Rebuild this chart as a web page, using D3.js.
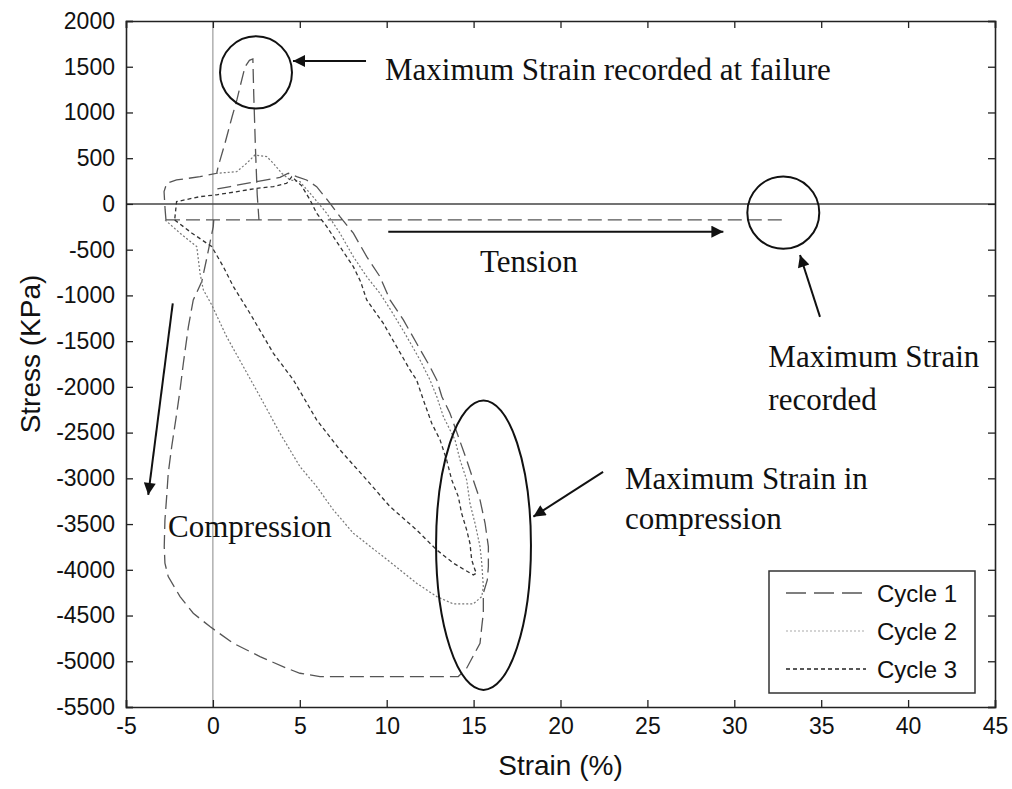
<!DOCTYPE html>
<html><head><meta charset="utf-8">
<script src="https://cdn.jsdelivr.net/npm/d3@7/dist/d3.min.js"></script>
<style>
body{margin:0;background:#fff;}
svg{display:block;}
</style></head><body>
<svg id="chart" width="1012" height="789"></svg>
<script>
// ---------------- data ----------------
const strainTicks = [-5, 0, 5, 10, 15, 20, 25, 30, 35, 40, 45];
const stressTicks = [2000, 1500, 1000, 500, 0, -500, -1000, -1500, -2000, -2500, -3000, -3500, -4000, -4500, -5000, -5500];
const seriesNames = ["Cycle 1", "Cycle 2", "Cycle 3"];

// [strain %, stress KPa]; null = pen up
const cycle1 = [
  [-2.7,-175],[2.65,-175], null,
  [-2.7,-175],[-2.75,-60],[-2.81,134],[-2.66,226],[-2.09,262],[-0.74,298],[0.22,335],[0.3,405],[0.7,667],[1.1,950],
  [1.38,1137],[1.56,1280],[1.85,1500],[2.1,1570],[2.3,1585],[2.35,1200],[2.45,600],[2.55,100],[2.65,-175],[33,-175], null,
  [0.05,-175],[0.02,-248],[-0.36,-600],[-0.64,-849],[-1.13,-1050],[-1.41,-1341],[-1.7,-1742],[-1.89,-2033],[-2.08,-2288],
  [-2.37,-2653],[-2.57,-2944],[-2.66,-3200],[-2.76,-3455],[-2.8,-3747],[-2.76,-3928],[-2.57,-4074],[-1.89,-4293],
  [-1.13,-4475],[-0.17,-4621],[1.17,-4803],[2.71,-4949],[4.25,-5076],[5.01,-5131],[6.16,-5167],[14.12,-5167],
  [14.6,-5076],[15.37,-4803],[15.47,-4621],[15.56,-4475],[15.56,-4256],[15.79,-4110],[15.85,-3965],[15.85,-3747],
  [15.66,-3491],[15.37,-3236],[14.98,-3017],[14.6,-2799],[14.12,-2543],[13.64,-2288],[13.17,-2106],[12.88,-1924],
  [12.49,-1779],[11.72,-1523],[10.96,-1268],[10.19,-1050],[9.61,-795],[8.85,-576],[8.08,-320],[7.31,-139],[6.74,7],
  [5.97,189],[5.39,262],[4.82,298],[4.34,335],[3.86,290],[3.0,260],[1.94,225],[1.0,190],[0.12,160]
];
const cycle2 = [
  [-2.75,-175],[-1.89,-320],[-0.93,-466],[-0.74,-758],[-0.55,-940],[-0.07,-1104],[0.79,-1451],[1.75,-1779],
  [2.71,-2106],[3.86,-2507],[5.01,-2872],[5.97,-3090],[6.93,-3345],[8.08,-3600],[9.8,-3856],[10.77,-4001],
  [11.72,-4147],[12.88,-4293],[13.84,-4373],[14.98,-4373],[15.47,-4293],[15.56,-4184],[15.47,-3928],[15.37,-3747],
  [15.08,-3491],[14.79,-3272],[14.6,-3017],[14.22,-2799],[13.93,-2580],[13.26,-2325],[12.88,-2106],[12.49,-1924],
  [11.9,-1700],[11.0,-1400],[10.2,-1150],[9.61,-977],[8.85,-795],[8.08,-576],[7.31,-320],[6.55,-102],[6.07,7],
  [5.59,117],[5.01,244],[4.44,262],[3.96,335],[3.48,444],[3.1,517],[2.42,535],[1.94,444],[1.37,353],[0.22,335]
];
const cycle3 = [
  [-2.2,-175],[-1.2,-320],[-0.07,-466],[0.6,-686],[1.18,-904],[2.13,-1195],[3.48,-1633],[4.63,-1924],[5.97,-2361],
  [7.31,-2689],[8.85,-3017],[10.19,-3309],[11.72,-3564],[12.88,-3783],[13.84,-3928],[14.98,-4056],[15.17,-4037],
  [15.08,-4001],[14.89,-3892],[14.79,-3710],[14.6,-3564],[14.31,-3382],[14.12,-3200],[13.74,-3017],[13.45,-2799],
  [13.07,-2580],[12.59,-2398],[12.11,-2143],[11.72,-1924],[11.34,-1815],[10.57,-1560],[9.8,-1304],[8.85,-1050],
  [8.5,-850],[8.08,-686],[7.31,-467],[6.55,-248],[5.97,-102],[5.59,44],[5.1,200],[4.54,298],[4.25,226],[3.48,189],
  [2.52,171],[1.56,140],[0.22,100],[-0.74,80],[-2.09,25],[-2.2,-175]
];

// annotations (data coordinates)
const annCircles = [ {cx:2.48, cy:1438, rx:2.07, ry:395}, {cx:32.82, cy:-96, rx:2.07, ry:395}, {cx:15.57, cy:-3731, rx:2.73, ry:1582} ];
const annArrows = [
  {x1:8.81, y1:1563, x2:4.61, y2:1563},
  {x1:10.09, y1:-303, x2:29.37, y2:-303},
  {x1:-2.31, y1:-1086, x2:-3.72, y2:-3181},
  {x1:34.93, y1:-1235, x2:33.78, y2:-558},
  {x1:22.45, y1:-2930, x2:18.44, y2:-3419}
];
const annTexts = [
  {x:9.9, y:1356, t:"Maximum Strain recorded at failure"},
  {x:15.37, y:-743, t:"Tension"},
  {x:-2.58, y:-3641, t:"Compression"},
  {x:31.96, y:-1782, t:"Maximum Strain"},
  {x:31.96, y:-2252, t:"recorded"},
  {x:23.71, y:-3116, t:"Maximum Strain in"},
  {x:23.71, y:-3553, t:"compression"}
];

// ---------------- drawing ----------------
const svg = d3.select("#chart");
const L = 126, R = 995, T = 21, B = 707;
const x = d3.scaleLinear().domain([-5, 45]).range([L, R]);
const y = d3.scaleLinear().domain([-5500, 2000]).range([B, T]);
const sans = "Arial, 'Liberation Sans', Helvetica, sans-serif";
const serif = "'Times New Roman', 'Liberation Serif', serif";
const fmt = d => String(d);

const defs = svg.append("defs");
defs.append("marker").attr("id","ah").attr("viewBox","0 0 10 10").attr("refX",10).attr("refY",5)
  .attr("markerWidth",17).attr("markerHeight",12).attr("markerUnits","userSpaceOnUse").attr("orient","auto")
  .append("path").attr("d","M0,0 L10,5 L0,10 Z").attr("fill","#111");
defs.append("clipPath").attr("id","clip").append("rect").attr("x",L).attr("y",T).attr("width",R-L).attr("height",B-T);

// reference lines
svg.append("line").attr("x1",x(0)).attr("x2",x(0)).attr("y1",T).attr("y2",B).attr("stroke","#888").attr("stroke-width",1);
svg.append("line").attr("x1",L).attr("x2",R).attr("y1",y(0)).attr("y2",y(0)).attr("stroke","#444").attr("stroke-width",1.6);

// axes
const axB = svg.append("g").attr("transform",`translate(0,${B})`)
  .call(d3.axisBottom(x).tickValues(strainTicks).tickSize(-7).tickPadding(11).tickFormat(fmt));
const axL = svg.append("g").attr("transform",`translate(${L},0)`)
  .call(d3.axisLeft(y).tickValues(stressTicks).tickSize(-7).tickPadding(11).tickFormat(fmt));
const axT = svg.append("g").attr("transform",`translate(0,${T})`)
  .call(d3.axisTop(x).tickValues(strainTicks).tickSize(-7).tickFormat(""));
const axR = svg.append("g").attr("transform",`translate(${R},0)`)
  .call(d3.axisRight(y).tickValues(stressTicks).tickSize(-7).tickFormat(""));
[axB, axL, axT, axR].forEach(g => {
  g.select(".domain").attr("stroke","#222").attr("stroke-width",1.6);
  g.selectAll(".tick line").attr("stroke","#222").attr("stroke-width",1.3);
  g.selectAll(".tick text").attr("fill","#111").style("font-family",sans).style("font-size","23px");
});

// axis titles
svg.append("text").attr("x",(L+R)/2).attr("y",775).attr("text-anchor","middle")
  .style("font-family",sans).style("font-size","28px").attr("fill","#111").text("Strain (%)");
svg.append("text").attr("transform",`translate(40,${(T+B)/2 - 10}) rotate(-90)`).attr("text-anchor","middle")
  .style("font-family",sans).style("font-size","28px").attr("fill","#111").text("Stress (KPa)");

// series
const line = d3.line().defined(d => d !== null).x(d => x(d[0])).y(d => y(d[1]));
const styles = [
  {data: cycle1, stroke:"#555", width:1.3, dash:"14,6"},
  {data: cycle2, stroke:"#777", width:1.2, dash:"2,2"},
  {data: cycle3, stroke:"#333", width:1.3, dash:"4,3"}
];
const gS = svg.append("g").attr("clip-path","url(#clip)");
styles.forEach(s => {
  gS.append("path").datum(s.data).attr("d", line).attr("fill","none")
    .attr("stroke", s.stroke).attr("stroke-width", s.width).attr("stroke-dasharray", s.dash);
});

// annotations
annCircles.forEach(c => {
  svg.append("ellipse").attr("cx", x(c.cx)).attr("cy", y(c.cy))
    .attr("rx", x(c.cx + c.rx) - x(c.cx)).attr("ry", y(c.cy - c.ry) - y(c.cy))
    .attr("fill","none").attr("stroke","#111").attr("stroke-width",2);
});
annArrows.forEach(a => {
  svg.append("line").attr("x1",x(a.x1)).attr("y1",y(a.y1)).attr("x2",x(a.x2)).attr("y2",y(a.y2))
    .attr("stroke","#111").attr("stroke-width",2).attr("marker-end","url(#ah)");
});
annTexts.forEach(t => {
  svg.append("text").attr("x",x(t.x)).attr("y",y(t.y)).style("font-family",serif).style("font-size","31px")
    .attr("fill","#111").text(t.t);
});

// legend
const lg = svg.append("g");
lg.append("rect").attr("x",769).attr("y",571).attr("width",206).attr("height",122)
  .attr("fill","#fff").attr("stroke","#333").attr("stroke-width",1.5);
const legendStyles = [
  {stroke:"#555", width:1.3, dash:"20,8"},
  {stroke:"#aaa", width:1.2, dash:"2,2"},
  {stroke:"#222", width:1.3, dash:"4,3"}
];
seriesNames.forEach((n, i) => {
  const yy = 593 + i * 38;
  lg.append("line").attr("x1",786).attr("x2",866).attr("y1",yy).attr("y2",yy)
    .attr("stroke",legendStyles[i].stroke).attr("stroke-width",legendStyles[i].width).attr("stroke-dasharray",legendStyles[i].dash);
  lg.append("text").attr("x",877).attr("y",yy).attr("dy","0.36em").style("font-family",sans).style("font-size","24px")
    .attr("fill","#111").text(n);
});
</script>
</body></html>
